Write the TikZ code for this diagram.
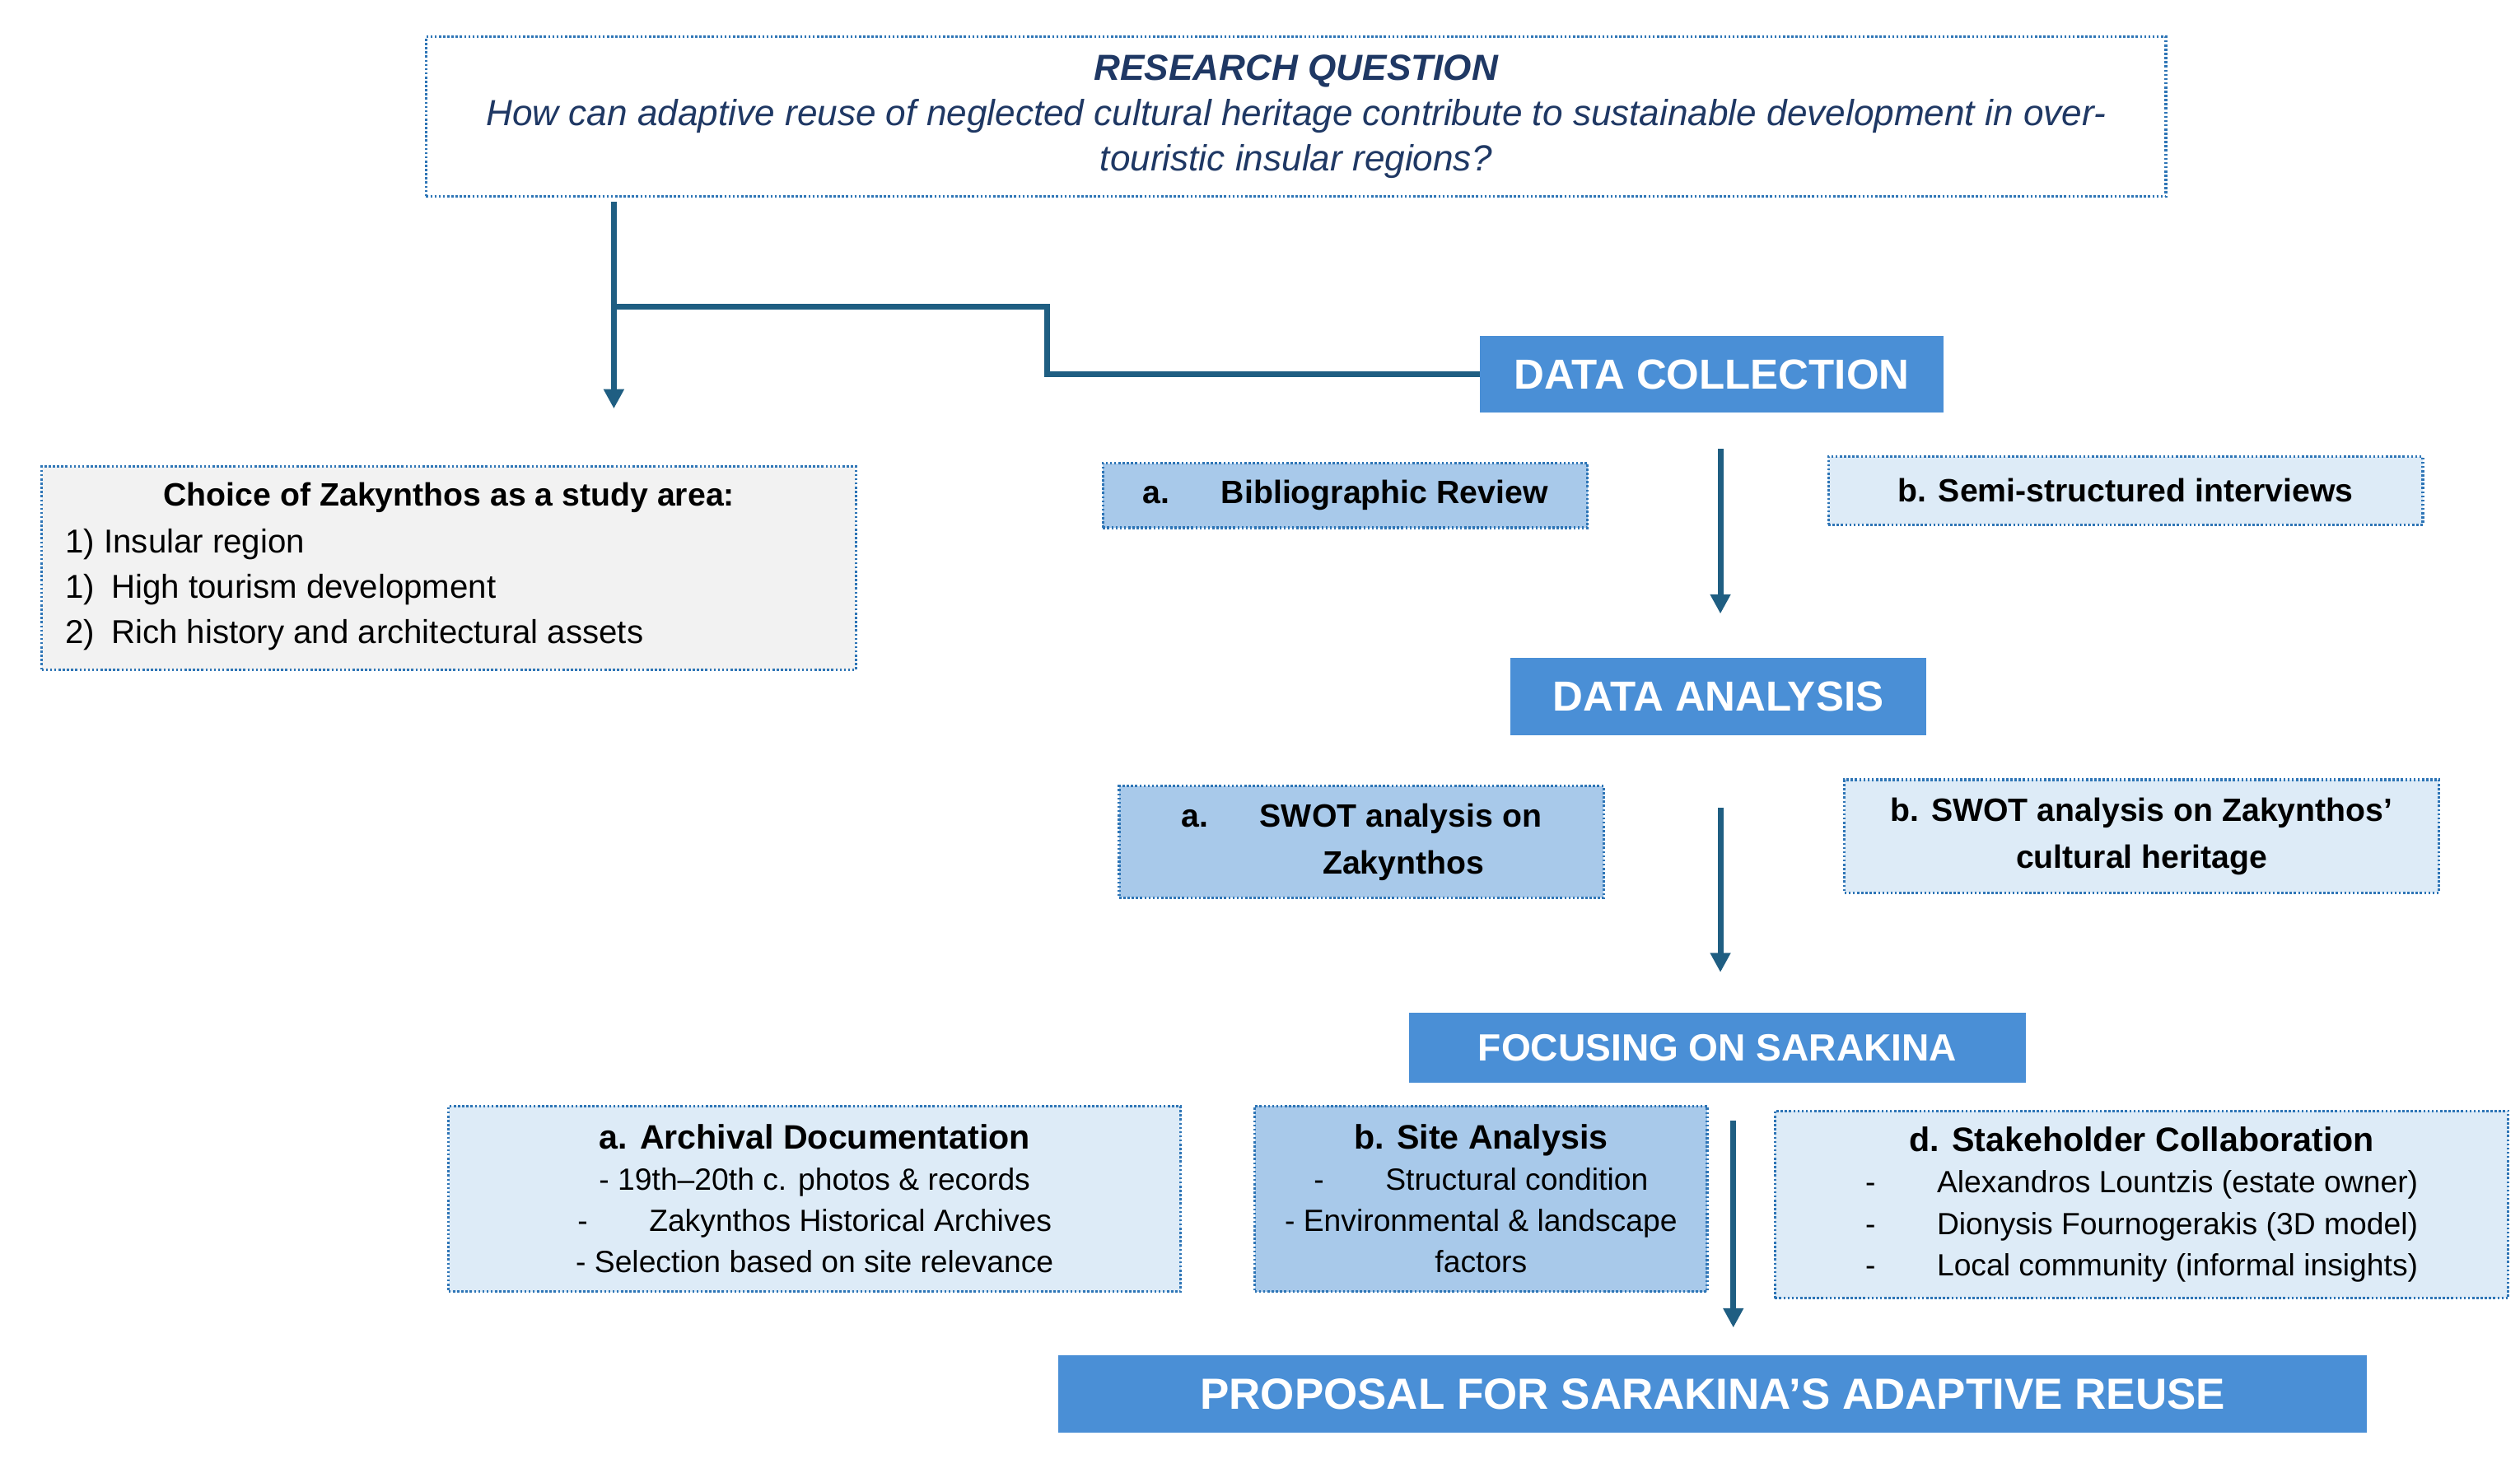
\documentclass[tikz,border=0pt]{standalone}
\usepackage{fontspec}
\setmainfont{Liberation Sans}
\usetikzlibrary{arrows.meta}
\definecolor{dk}{HTML}{1F5E82}
\definecolor{bd}{HTML}{2E75B6}
\definecolor{mid}{HTML}{4A8FD6}
\definecolor{lb}{HTML}{A8C9EA}
\definecolor{vl}{HTML}{DDEBF7}
\definecolor{gr}{HTML}{F2F2F2}
\definecolor{tx}{HTML}{1F3864}
\tikzset{
 x=1pt,y=-1pt,
 dbox/.style={draw=bd,line width=1.6pt,dash pattern=on 1.3pt off 1.3pt,anchor=north west,inner sep=0pt,align=center,font=\fontsize{19}{25.5}\selectfont},
 hbox/.style={fill=mid,anchor=north west,inner sep=0pt,text=white,font=\bfseries\fontsize{26}{28}\selectfont},
 arr/.style={draw=dk,line width=3.5pt,-{Triangle[length=12pt,width=12pt]}},
 ln/.style={draw=dk,line width=3.5pt}
}
\begin{document}
\begin{tikzpicture}
\useasboundingbox (0,0) rectangle (1560,903);
\fill[white] (0,0) rectangle (1560,903);
\node[dbox,fill=white,minimum width=1077pt,minimum height=99pt,text=tx,font=\itshape\fontsize{22.5}{28}\selectfont] (rq) at (263,22)
 {\textbf{RESEARCH QUESTION}\\How can adaptive reuse of neglected cultural heritage contribute to sustainable development in over-\\touristic insular regions?};
\node[hbox,minimum width=287pt,minimum height=47pt] (dc) at (916,208) {DATA COLLECTION};
\node[dbox,fill=gr,minimum width=504pt,minimum height=126pt] (ch) at (25,288) {};
\node[font=\bfseries\fontsize{20}{26}\selectfont] (cht) at (278,308) {Choice of Zakynthos as a study area:};
\node[anchor=west,align=left,font=\fontsize{20.5}{28}\selectfont] (chl) at (37,365) {1) Insular region\\1)\hspace{0.5em}High tourism development\\2)\hspace{0.5em}Rich history and architectural assets};
\coordinate (s) at (380,125);
\coordinate (t) at (380,253);
\draw[arr] (s) -- (t);
\coordinate (k) at (648,190);
\draw[ln] (380,190) -- (k) |- (dc.west);
\node[dbox,fill=lb,minimum width=300pt,minimum height=40pt,font=\bfseries\fontsize{20}{26}\selectfont] (bib) at (682,286) {a.\hspace{1.6em}Bibliographic Review};
\node[dbox,fill=vl,minimum width=368pt,minimum height=42pt,font=\bfseries\fontsize{20}{26}\selectfont] (ssi) at (1131,282) {b. Semi-structured interviews};
\node[hbox,minimum width=257pt,minimum height=48pt] (da) at (935,407) {DATA ANALYSIS};
\coordinate (a1) at (1065,278);
\coordinate (a2) at (1065,380);
\draw[arr] (a1) -- (a2);
\node[dbox,fill=lb,minimum width=300pt,minimum height=69pt,font=\bfseries\fontsize{20}{29}\selectfont] (sa) at (692,486) {a.\hspace{1.6em}SWOT analysis on\\\hspace{2.6em}Zakynthos};
\node[dbox,fill=vl,minimum width=368pt,minimum height=70pt,font=\bfseries\fontsize{20}{29}\selectfont] (sb) at (1141,482) {b. SWOT analysis on Zakynthos’\\cultural heritage};
\node[hbox,minimum width=382pt,minimum height=43pt,font=\bfseries\fontsize{23.5}{26}\selectfont] (fs) at (872,627) {FOCUSING ON SARAKINA};
\coordinate (b1) at (1065,500);
\coordinate (b2) at (1065,602);
\draw[arr] (b1) -- (b2);
\node[dbox,fill=vl,minimum width=453pt,minimum height=115pt] (ad) at (277,684) {\textbf{\fontsize{21}{26}\selectfont a. Archival Documentation}\\- 19th–20th c. photos \& records\\-\hspace{2em}Zakynthos Historical Archives\\- Selection based on site relevance};
\node[dbox,fill=lb,minimum width=280pt,minimum height=115pt] (sta) at (776,684) {\textbf{\fontsize{21}{26}\selectfont b. Site Analysis}\\-\hspace{2em}Structural condition\\- Environmental \& landscape\\factors};
\node[dbox,fill=vl,minimum width=454pt,minimum height=116pt] (sc) at (1098,687) {\textbf{\fontsize{21}{26}\selectfont d. Stakeholder Collaboration}\\-\hspace{2em}Alexandros Lountzis (estate owner)\\-\hspace{2em}Dionysis Fournogerakis (3D model)\\-\hspace{2em}Local community (informal insights)};
\node[hbox,minimum width=810pt,minimum height=48pt,font=\bfseries\fontsize{27}{30}\selectfont] (pr) at (655,839) {PROPOSAL FOR SARAKINA’S ADAPTIVE REUSE};
\coordinate (c1) at (1073,694);
\coordinate (c2) at (1073,822);
\draw[arr] (c1) -- (c2);
\end{tikzpicture}
\end{document}
